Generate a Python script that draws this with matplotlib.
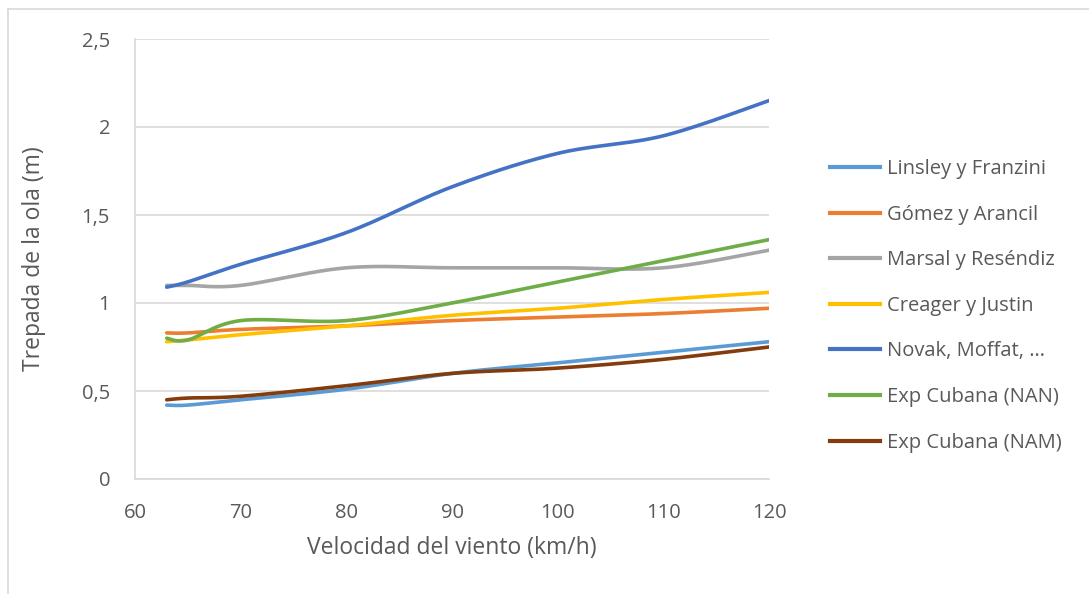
import numpy as np
import matplotlib
matplotlib.use("Agg")
import matplotlib.pyplot as plt
from matplotlib.lines import Line2D
from matplotlib.ticker import FuncFormatter, MultipleLocator

# Wind speed (km/h)
velocidad = [63, 65, 70, 80, 90, 100, 110, 120]

series_names = [
    "Linsley y Franzini",
    "Gómez y Arancil",
    "Marsal y Reséndiz",
    "Creager y Justin",
    "Novak, Moffat, …",
    "Exp Cubana (NAN)",
    "Exp Cubana (NAM)",
]

linsley = [0.42, 0.42, 0.45, 0.51, 0.60, 0.66, 0.72, 0.78]
gomez = [0.83, 0.83, 0.85, 0.87, 0.90, 0.92, 0.94, 0.97]
marsal = [1.10, 1.10, 1.10, 1.20, 1.20, 1.20, 1.20, 1.30]
creager = [0.78, 0.79, 0.82, 0.87, 0.93, 0.97, 1.02, 1.06]
novak = [1.09, 1.12, 1.22, 1.40, 1.66, 1.85, 1.95, 2.15]
cubana_nan = [0.80, 0.79, 0.90, 0.90, 1.00, 1.12, 1.24, 1.36]
cubana_nam = [0.45, 0.46, 0.47, 0.53, 0.60, 0.63, 0.68, 0.75]

colors = ["#5B9BD5", "#ED7D31", "#A5A5A5", "#FFC000", "#4472C4", "#70AD47", "#843C0C"]


def smooth(xs, ys, n=40):
    """Bezier smoothing through every point (spreadsheet-style smoothed line)."""
    P = np.column_stack([xs, ys]).astype(float)
    m = len(P)
    out = []
    for i in range(m - 1):
        p0 = P[i - 1] if i > 0 else P[i]
        p1 = P[i]
        p2 = P[i + 1]
        p3 = P[i + 2] if i + 2 < m else P[i + 1]
        c1 = p1 + (p2 - p0) / 6.0
        c2 = p2 - (p3 - p1) / 6.0
        t = np.linspace(0, 1, n)[:, None]
        seg = ((1 - t) ** 3) * p1 + 3 * ((1 - t) ** 2) * t * c1 + 3 * (1 - t) * t ** 2 * c2 + t ** 3 * p2
        out.append(seg if i == 0 else seg[1:])
    c = np.vstack(out)
    return c[:, 0], c[:, 1]


plt.rcParams["font.family"] = ["Open Sans", "DejaVu Sans"]

W, H = 1089, 594
fig = plt.figure(figsize=(W / 100, H / 100), dpi=100)
ax = fig.add_axes([135 / W, 1 - 479 / H, (769 - 135) / W, (479 - 39) / H])

data = [linsley, gomez, marsal, creager, novak, cubana_nan, cubana_nam]
for name, ys, col in zip(series_names, data, colors):
    sx, sy = smooth(velocidad, ys)
    ax.plot(sx, sy, color=col, lw=2.6, solid_capstyle="round", label=name, zorder=3)

ax.set_xlim(60, 120)
ax.set_ylim(0, 2.5)
ax.xaxis.set_major_locator(MultipleLocator(10))
ax.yaxis.set_major_locator(MultipleLocator(0.5))
ax.yaxis.set_major_formatter(FuncFormatter(lambda v, p: f"{v:g}".replace(".", ",")))

grid_c = "#D9D9D9"
ax.grid(axis="y", color=grid_c, lw=1.2)
ax.set_axisbelow(True)
for s in ["top", "right"]:
    ax.spines[s].set_visible(False)
for s in ["left", "bottom"]:
    ax.spines[s].set_color(grid_c)
    ax.spines[s].set_linewidth(1.2)
ax.tick_params(length=0, labelsize=14.5, colors="#595959")
ax.tick_params(axis="x", pad=17)
ax.tick_params(axis="y", pad=18)

ax.set_xlabel("Velocidad del viento (km/h)", fontsize=16.5, color="#595959", labelpad=10)
ax.set_ylabel("Trepada de la ola (m)", fontsize=16.5, color="#595959", labelpad=26)

handles = [Line2D([0], [0], color=c, lw=3) for c in colors]
leg = fig.legend(handles, series_names, loc="upper left",
                 bbox_to_anchor=(812 / W, 1 - 141 / H), frameon=False,
                 fontsize=14.5, labelcolor="#595959", handlelength=2.5,
                 handletextpad=0.3, labelspacing=1.27)

# Chart frame
fig.add_artist(Line2D([7.5 / W, 7.5 / W], [0, 1 - 8.5 / H], color=grid_c, lw=1.2))
fig.add_artist(Line2D([7.5 / W, 1], [1 - 8.5 / H, 1 - 8.5 / H], color=grid_c, lw=1.2))

fig.savefig("out.png", dpi=100)
